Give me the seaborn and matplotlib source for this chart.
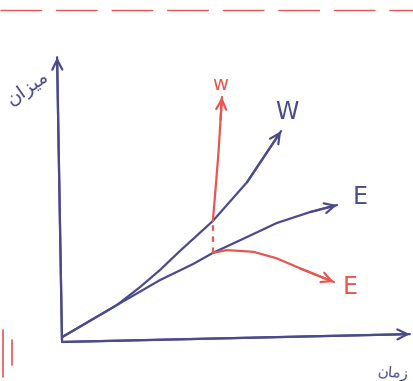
import numpy as np
import pandas as pd
import matplotlib
matplotlib.use("Agg")
import matplotlib.pyplot as plt
import seaborn as sns

# curves (time, amount)
w_blue_t = [0, 1.57, 2.23, 2.80, 3.37, 4.31, 5.29, 6.26]
w_blue_v = [0.1, 1.25, 1.89, 2.50, 3.18, 4.25, 5.64, 7.46]
e_blue_t = [0, 1.57, 2.80, 3.74, 4.31, 5.17, 6.14, 7.09, 7.86]
e_blue_v = [0.1, 1.25, 2.14, 2.71, 3.11, 3.61, 4.18, 4.57, 4.82]
w_red_t = [4.31, 4.37, 4.47, 4.53, 4.57]
w_red_v = [4.25, 5.12, 6.67, 7.86, 8.68]
w_red_dash_t = [4.31, 4.31]
w_red_dash_v = [3.11, 4.25]
e_red_t = [4.31, 4.71, 5.47, 6.13, 6.80, 7.77]
e_red_v = [3.11, 3.21, 3.15, 2.92, 2.56, 2.07]

# hand drawn axes
yaxis_t = [0, -0.14]
yaxis_v = [0, 10.1]
xaxis_t = [0, 9.94]
xaxis_v = [-0.07, 0.21]

# "زمان" and "میزان" in shaped presentation forms (visual order)
xlabel = "\uFEE5\uFE8E\uFEE3\uFEAF"
ylabel = "\uFEE5\uFE8D\uFEB0\uFBFF\uFEE3"

blue = "#4b4b8c"
red = "#e5574f"

sns.set_theme(style="white")
plt.rcParams["font.family"] = ["DejaVu Sans"]

fig = plt.figure(figsize=(4.13, 3.81), dpi=100)
ax = fig.add_axes([0, 0, 1, 1])


def curve(t, v, color, dashed=False, arrow=True):
    d = pd.DataFrame({"t": t, "v": v})
    sns.lineplot(data=d, x="t", y="v", sort=False, estimator=None,
                 color=color, lw=1.6, ax=ax,
                 linestyle=(0, (2.5, 2.5)) if dashed else "-")
    if arrow:
        ax.annotate("", xy=(t[-1], v[-1]), xytext=(t[-2], v[-2]),
                    arrowprops=dict(arrowstyle="->", color=color, lw=1.6,
                                    mutation_scale=18, shrinkA=0, shrinkB=0))


curve(yaxis_t, yaxis_v, blue)
curve(xaxis_t, xaxis_v, blue)
curve(w_blue_t, w_blue_v, blue)
curve(e_blue_t, e_blue_v, blue)
curve(w_red_dash_t, w_red_dash_v, red, dashed=True, arrow=False)
curve(w_red_t, w_red_v, red)
curve(e_red_t, e_red_v, red)

ax.text(6.43, 8.14, "W", color=blue, fontsize=17, ha="center", va="center")
ax.text(8.51, 5.11, "E", color=blue, fontsize=17, ha="center", va="center")
ax.text(8.23, 1.89, "E", color=red, fontsize=17, ha="center", va="center")
ax.text(4.51, 9.11, "w", color=red, fontsize=14, ha="center", va="center")
ax.text(-1.0, 9.0, ylabel, color=blue, fontsize=14, rotation=35,
        ha="center", va="center")
ax.text(9.46, -1.18, xlabel, color=blue, fontsize=11, rotation=-5,
        ha="center", va="center")

# page decorations
ax.axhline(11.79, color=red, lw=1.0, linestyle=(0, (30, 10)))
ax.plot([-1.69, -1.69], [0.36, -1.32], color=red, lw=1.2)
ax.plot([-1.43, -1.43], [0.0, -0.89], color=red, lw=1.2)

ax.set_xlim(-1.771, 10.029)
ax.set_ylim(-1.464, 12.143)
ax.set_axis_off()
ax.set_xlabel("")
ax.set_ylabel("")

fig.savefig("out.png", dpi=100, facecolor="white")
